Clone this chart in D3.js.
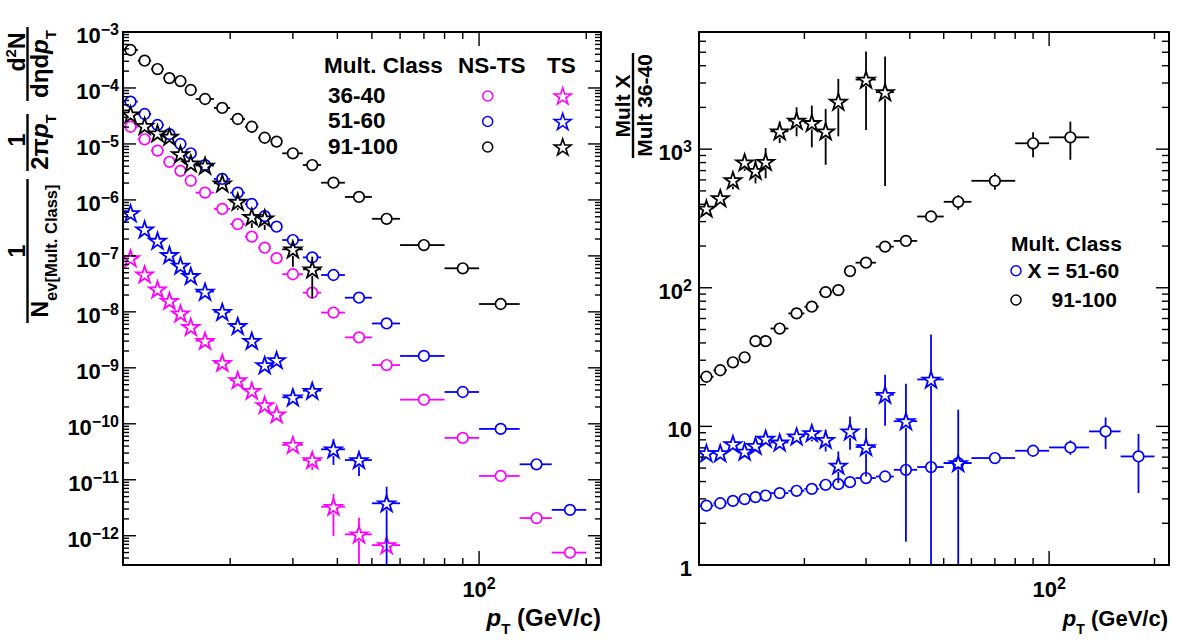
<!DOCTYPE html>
<html>
<head>
<meta charset="utf-8">
<title>pT spectra by multiplicity class</title>
<script src="https://d3js.org/d3.v7.min.js"></script>
<style>
  body { margin: 0; background: #fff; }
  text { font-family: 'Liberation Sans', Arial, Helvetica, sans-serif; font-weight: bold; fill: #000; }
</style>
</head>
<body>
<div id="chart"></div>
<script>
// pT bins (GeV/c)
var ptCenter = [10.5, 11.5, 12.5, 13.5, 14.5, 15.5, 17, 19, 21, 23, 25, 27, 30, 34, 39, 46, 55, 70, 90, 115, 145, 180];
var ptLow    = [10, 11, 12, 13, 14, 15, 16, 18, 20, 22, 24, 26, 28, 32, 36, 42, 50, 60, 80, 100, 130, 160];
var ptHigh   = [11, 12, 13, 14, 15, 16, 18, 20, 22, 24, 26, 28, 32, 36, 42, 50, 60, 80, 100, 130, 160, 200];

var multClasses = ["36-40", "51-60", "91-100"];
var classColors = ["#ff00ff", "#0000ff", "#000000"];

// left panel: spectra, NS-TS (circles)
var nsts3640  = [2.03e-5, 1.21e-5, 7.6e-6, 4.8e-6, 3.3e-6, 2.2e-6, 1.35e-6, 6.9e-7, 3.7e-7, 2.2e-7, 1.4e-7, 9.1e-8, 4.7e-8, 2.2e-8, 9.7e-9, 3.5e-9, 1.12e-9, 2.7e-10, 5.6e-11, 1.17e-11, 2.07e-12, 5.0e-13];
var nsts5160  = [5.69e-5, 3.43e-5, 2.18e-5, 1.5e-5, 9.97e-6, 6.8e-6, 4.2e-6, 2.37e-6, 1.35e-6, 8.45e-7, 5.15e-7, 3.32e-7, 1.92e-7, 9.4e-8, 4.55e-8, 1.79e-8, 6.2e-9, 1.63e-9, 3.7e-10, 8.1e-11, 1.89e-11, 2.9e-12];
var nsts91100 = [4.77e-4, 3.07e-4, 2.18e-4, 1.5e-4, 1.33e-4, 9.2e-5, 6.35e-5, 4.4e-5, 2.79e-5, 2.03e-5, 1.29e-5, 1.1e-5, 6.8e-6, 4.2e-6, 2.03e-6, 1.13e-6, 4.6e-7, 1.56e-7, 6.0e-8, 1.38e-8];

// left panel: spectra, TS (stars)
var ts3640  = [9.1e-8, 4.7e-8, 2.53e-8, 1.58e-8, 9.4e-9, 5.4e-9, 3.05e-9, 1.23e-9, 6.05e-10, 3.9e-10, 2.17e-10, 1.48e-10, 4.2e-11, 2.25e-11, 3.3e-12, 1.06e-12, 6.8e-13];
var ts3640Lo = [null, null, null, null, null, null, null, null, null, null, null, null, null, 1.49e-11, 9.9e-13, 1e-14, 5.5e-13];
var ts3640Hi = [null, null, null, null, null, null, null, null, null, null, null, null, null, 2.97e-11, 5.6e-12, 2.1e-12, 8.8e-13];
var ts5160  = [5.8e-7, 2.98e-7, 1.87e-7, 1.04e-7, 6.7e-8, 4.38e-8, 2.3e-8, 1.0e-8, 5.6e-9, 3.05e-9, 1.12e-9, 1.38e-9, 2.97e-10, 3.9e-10, 3.5e-11, 2.25e-11, 3.8e-12];
var ts5160Lo = [null, null, null, null, null, null, null, null, null, null, null, null, null, null, 1.84e-11, 1.17e-11, 1e-14];
var ts5160Hi = [null, null, null, null, null, null, null, null, null, null, null, null, null, null, 5.3e-11, 3.17e-11, 7.5e-12];
var ts91100 = [3.39e-5, 2.1e-5, 1.55e-5, 1.35e-5, 6.6e-6, 4.5e-6, 4.1e-6, 1.98e-6, 9.3e-7, 5.0e-7, 4.7e-7, null, 1.31e-7, 5.75e-8];
var ts91100Lo = [null, null, null, null, null, null, null, null, 6.6e-7, 3.15e-7, 2.9e-7, null, 6.4e-8, 1.75e-8];
var ts91100Hi = [null, null, null, null, null, null, null, null, 1.14e-6, 6.6e-7, 6.15e-7, null, 1.72e-7, 9.7e-8];

// right panel: ratio to 36-40
var rNsts5160 = [2.68, 2.79, 2.90, 2.99, 3.09, 3.17, 3.30, 3.43, 3.54, 3.79, 3.83, 3.96, 4.24, 4.35, 4.86, 5.09, 5.44, 5.91, 6.67, 7.05, 9.2, 6.07];
var rNsts5160Lo = [null, null, null, null, null, null, null, null, null, null, null, null, null, null, null, null, null, null, 6.4, 6.24, 6.87, 3.30];
var rNsts5160Hi = [null, null, null, null, null, null, null, null, null, null, null, null, null, null, null, null, null, null, 6.95, 7.92, 11.6, 8.81];
var rNsts91100 = [22.8, 25.4, 29.0, 31.5, 41.2, 41.2, 50.8, 65.3, 73.0, 93.0, 96.2, 132, 151.7, 198, 217.7, 326.6, 417, 591, 1102, 1217];
var rNsts91100Lo = [null, null, null, null, null, null, null, null, null, null, null, null, null, null, null, 312, 365, 509, 873, 838];
var rNsts91100Hi = [null, null, null, null, null, null, null, null, null, null, null, null, null, null, null, 342, 466, 671, 1322, 1578];
var rTs5160 = [6.42, 6.42, 7.46, 6.59, 7.25, 8.15, 7.66, 8.47, 8.96, 8.01, 5.22, 9.2, 7.10, 16.9, 10.9, 21.8, 5.44];
var rTs5160Lo = [null, null, null, null, null, 7.7, 7.2, 7.9, 7.79, 6.59, 3.90, 6.79, 4.35, 10.1, 1.47, 0.5, 0.5];
var rTs5160Hi = [null, null, null, null, null, 8.6, 8.1, 9.0, 10.0, 9.46, 6.59, 11.8, 9.73, 23.6, 20.3, 46.0, 13.2];
var rTs91100 = [373, 443, 598, 804, 698, 811, 1345, 1604, 1545, 1345, 2203, null, 3177, 2575];
var rTs91100Lo = [355, 420, 514, 698, 566, 615, 1107, 1238, 1031, 771, 1238, null, 1374, 543];
var rTs91100Hi = [390, 465, 661, 873, 834, 1019, 1578, 2005, 2060, 1950, 3213, null, 5060, 4657];

var width = 1182, height = 642;

var svg = d3.select("#chart").append("svg")
    .attr("width", width)
    .attr("height", height);

var leftBox  = { x0: 123, x1: 601, y0: 32, y1: 565 };
var rightBox = { x0: 699, x1: 1169, y0: 32, y1: 565 };

var xLeft  = d3.scaleLog().domain([10, 220]).range([leftBox.x0, leftBox.x1]);
var yLeft  = d3.scaleLog().domain([3e-13, 1e-3]).range([leftBox.y1, leftBox.y0]);
var xRight = d3.scaleLog().domain([10, 220]).range([rightBox.x0, rightBox.x1]);
var yRight = d3.scaleLog().domain([1, 7000]).range([rightBox.y1, rightBox.y0]);

var star = d3.symbol().type(d3.symbolStar).size(88);

// all 1..9 x 10^n values inside a log domain
function logTicks(domain) {
    var out = [];
    var lo = Math.floor(Math.log10(domain[0])), hi = Math.ceil(Math.log10(domain[1]));
    for (var d = lo; d <= hi; d++) {
        for (var k = 1; k <= 9; k++) {
            var v = k * Math.pow(10, d);
            if (v >= domain[0] * 0.9999 && v <= domain[1] * 1.0001) out.push({ v: v, major: k === 1, exp: d });
        }
    }
    return out;
}

function drawFrame(g, box, x, y, majY, minY) {
    var tk = g.append("g").attr("stroke", "#000").attr("stroke-width", 1.4);
    logTicks(x.domain()).forEach(function(t) {
        var px = x(t.v), len = t.major ? 14 : 7;
        tk.append("line").attr("x1", px).attr("x2", px).attr("y1", box.y1).attr("y2", box.y1 - len);
        tk.append("line").attr("x1", px).attr("x2", px).attr("y1", box.y0).attr("y2", box.y0 + len);
    });
    logTicks(y.domain()).forEach(function(t) {
        var py = y(t.v), len = t.major ? majY : minY;
        tk.append("line").attr("x1", box.x0).attr("x2", box.x0 + len).attr("y1", py).attr("y2", py);
        tk.append("line").attr("x1", box.x1).attr("x2", box.x1 - len).attr("y1", py).attr("y2", py);
    });
    g.append("rect")
        .attr("x", box.x0).attr("y", box.y0)
        .attr("width", box.x1 - box.x0).attr("height", box.y1 - box.y0)
        .attr("fill", "none").attr("stroke", "#000").attr("stroke-width", 2);
}

function powText(g, px, py, exp, anchor) {
    var t = g.append("text").attr("x", px).attr("y", py)
        .attr("text-anchor", anchor).style("font-size", "22px");
    if (exp === 0) { t.text("1"); return; }
    if (exp === 1) { t.text("10"); return; }
    t.append("tspan").text("10");
    t.append("tspan").attr("dy", -8).style("font-size", "16px")
        .text(exp < 0 ? "\u2212" + (-exp) : String(exp));
}

function drawSeries(g, x, y, vals, lo, hi, color, marker) {
    var gap = marker === "star" ? 6.5 : 5.5;
    var s = g.append("g");
    vals.forEach(function(v, i) {
        if (v == null) return;
        var cx = x(ptCenter[i]), cy = y(v);
        var xl = x(ptLow[i]), xh = x(ptHigh[i]);
        var segs = [];
        if (xl < cx - gap) segs.push([xl, cy, cx - gap, cy]);
        if (xh > cx + gap) segs.push([cx + gap, cy, xh, cy]);
        if (lo && lo[i] != null) {
            var yl = y(lo[i]), yh = y(hi[i]);
            if (yl > cy + gap) segs.push([cx, cy + gap, cx, yl]);
            if (yh < cy - gap) segs.push([cx, yh, cx, cy - gap]);
        }
        segs.forEach(function(sg) {
            s.append("line").attr("x1", sg[0]).attr("y1", sg[1]).attr("x2", sg[2]).attr("y2", sg[3])
                .attr("stroke", color).attr("stroke-width", 1.8);
        });
        if (marker === "star") {
            s.append("path").attr("d", star).attr("transform", "translate(" + cx + "," + (cy + 0.8) + ")")
                .attr("fill", "none").attr("stroke", color).attr("stroke-width", 1.8);
        } else {
            s.append("circle").attr("cx", cx).attr("cy", cy).attr("r", 5.3)
                .attr("fill", "none").attr("stroke", color).attr("stroke-width", 1.7);
        }
    });
}

function clipFor(id, box) {
    svg.append("clipPath").attr("id", id).append("rect")
        .attr("x", box.x0).attr("y", box.y0)
        .attr("width", box.x1 - box.x0).attr("height", box.y1 - box.y0);
}
clipFor("clipL", leftBox);
clipFor("clipR", rightBox);

// ---------- left panel ----------
var gL = svg.append("g");
var dataL = gL.append("g").attr("clip-path", "url(#clipL)");
drawSeries(dataL, xLeft, yLeft, nsts3640, null, null, classColors[0], "circle");
drawSeries(dataL, xLeft, yLeft, nsts5160, null, null, classColors[1], "circle");
drawSeries(dataL, xLeft, yLeft, nsts91100, null, null, classColors[2], "circle");
drawSeries(dataL, xLeft, yLeft, ts3640, ts3640Lo, ts3640Hi, classColors[0], "star");
drawSeries(dataL, xLeft, yLeft, ts5160, ts5160Lo, ts5160Hi, classColors[1], "star");
drawSeries(dataL, xLeft, yLeft, ts91100, ts91100Lo, ts91100Hi, classColors[2], "star");
drawFrame(gL, leftBox, xLeft, yLeft, 13, 6);

logTicks(yLeft.domain()).filter(function(t) { return t.major; }).forEach(function(t) {
    powText(gL, leftBox.x0 - 4, yLeft(t.v) + 11, t.exp, "end");
});
powText(gL, xLeft(100), 597, 2, "middle");

// x title
var xtL = gL.append("text").attr("x", 601).attr("y", 626).attr("text-anchor", "end").style("font-size", "24px");
xtL.append("tspan").style("font-style", "italic").text("p");
xtL.append("tspan").attr("dy", 8).style("font-size", "15px").text("T");
xtL.append("tspan").attr("dy", -8).text(" (GeV/c)");

// y title: three stacked fractions, rotated
var yt = gL.append("g").attr("transform", "rotate(-90)");
function fracBar(g, u0, u1, v) {
    g.append("line").attr("x1", u0).attr("x2", u1).attr("y1", v).attr("y2", v)
        .attr("stroke", "#000").attr("stroke-width", 2.4);
}
var f1n = yt.append("text").attr("x", -52).attr("y", 25).attr("text-anchor", "middle").style("font-size", "23px");
f1n.append("tspan").text("d");
f1n.append("tspan").attr("dy", -9).style("font-size", "15px").text("2");
f1n.append("tspan").attr("dy", 9).text("N");
fracBar(yt, -101, -27, 27.5);
var f1d = yt.append("text").attr("x", -64).attr("y", 48).attr("text-anchor", "middle").style("font-size", "24px");
f1d.append("tspan").text("d\u03b7d");
f1d.append("tspan").style("font-style", "italic").text("p");
f1d.append("tspan").attr("dy", 8).style("font-size", "15px").text("T");

yt.append("text").attr("x", -140).attr("y", 25).attr("text-anchor", "middle").style("font-size", "23px").text("1");
fracBar(yt, -171, -114, 27.5);
var f2d = yt.append("text").attr("x", -142).attr("y", 48).attr("text-anchor", "middle").style("font-size", "24px");
f2d.append("tspan").text("2\u03c0");
f2d.append("tspan").style("font-style", "italic").text("p");
f2d.append("tspan").attr("dy", 8).style("font-size", "15px").text("T");

yt.append("text").attr("x", -251).attr("y", 25).attr("text-anchor", "middle").style("font-size", "23px").text("1");
fracBar(yt, -323, -179, 27.5);
var f3d = yt.append("text").attr("x", -251).attr("y", 48).attr("text-anchor", "middle").style("font-size", "23px");
f3d.append("tspan").text("N");
f3d.append("tspan").attr("dy", 9).style("font-size", "16.5px").text("ev[Mult. Class]");

// legend
var lg = gL.append("g");
lg.append("text").attr("x", 324).attr("y", 73).style("font-size", "22.5px").text("Mult. Class");
lg.append("text").attr("x", 458).attr("y", 73).style("font-size", "22.5px").text("NS-TS");
lg.append("text").attr("x", 547).attr("y", 73).style("font-size", "22.5px").text("TS");
multClasses.forEach(function(c, i) {
    var yy = 96 + i * 25.5;
    lg.append("text").attr("x", 328).attr("y", yy + 6.5).style("font-size", "22.5px").text(c);
    lg.append("circle").attr("cx", 487.7).attr("cy", yy).attr("r", 5)
        .attr("fill", "none").attr("stroke", classColors[i]).attr("stroke-width", 1.5);
    lg.append("path").attr("d", star).attr("transform", "translate(562.7," + (yy + 0.8) + ")")
        .attr("fill", "none").attr("stroke", classColors[i]).attr("stroke-width", 1.6);
});

// ---------- right panel ----------
var gR = svg.append("g");
var dataR = gR.append("g").attr("clip-path", "url(#clipR)");
drawSeries(dataR, xRight, yRight, rNsts5160, rNsts5160Lo, rNsts5160Hi, classColors[1], "circle");
drawSeries(dataR, xRight, yRight, rNsts91100, rNsts91100Lo, rNsts91100Hi, classColors[2], "circle");
drawSeries(dataR, xRight, yRight, rTs5160, rTs5160Lo, rTs5160Hi, classColors[1], "star");
drawSeries(dataR, xRight, yRight, rTs91100, rTs91100Lo, rTs91100Hi, classColors[2], "star");
drawFrame(gR, rightBox, xRight, yRight, 13, 7);

logTicks(yRight.domain()).filter(function(t) { return t.major; }).forEach(function(t) {
    powText(gR, rightBox.x0 - 7, yRight(t.v) + 11, t.exp, "end");
});
powText(gR, xRight(100), 597, 2, "middle");

var xtR = gR.append("text").attr("x", 1168).attr("y", 626).attr("text-anchor", "end").style("font-size", "22px");
xtR.append("tspan").style("font-style", "italic").text("p");
xtR.append("tspan").attr("dy", 8).style("font-size", "14px").text("T");
xtR.append("tspan").attr("dy", -8).text(" (GeV/c)");

var ytR = gR.append("g").attr("transform", "rotate(-90)");
ytR.append("text").attr("x", -106).attr("y", 630).attr("text-anchor", "middle").style("font-size", "21px").text("Mult X");
fracBar(ytR, -158, -53, 633);
ytR.append("text").attr("x", -105.5).attr("y", 652).attr("text-anchor", "middle").style("font-size", "21px").text("Mult 36-40");

var lgR = gR.append("g");
lgR.append("text").attr("x", 1011).attr("y", 251).style("font-size", "21px").text("Mult. Class");
lgR.append("circle").attr("cx", 1016).attr("cy", 270.7).attr("r", 5)
    .attr("fill", "none").attr("stroke", classColors[1]).attr("stroke-width", 1.5);
lgR.append("text").attr("x", 1027.5).attr("y", 277.5).style("font-size", "21px").text("X = " + multClasses[1]);
lgR.append("circle").attr("cx", 1016).attr("cy", 300).attr("r", 5)
    .attr("fill", "none").attr("stroke", classColors[2]).attr("stroke-width", 1.5);
lgR.append("text").attr("x", 1051.5).attr("y", 307).style("font-size", "21px").text(multClasses[2]);
</script>
</body>
</html>
